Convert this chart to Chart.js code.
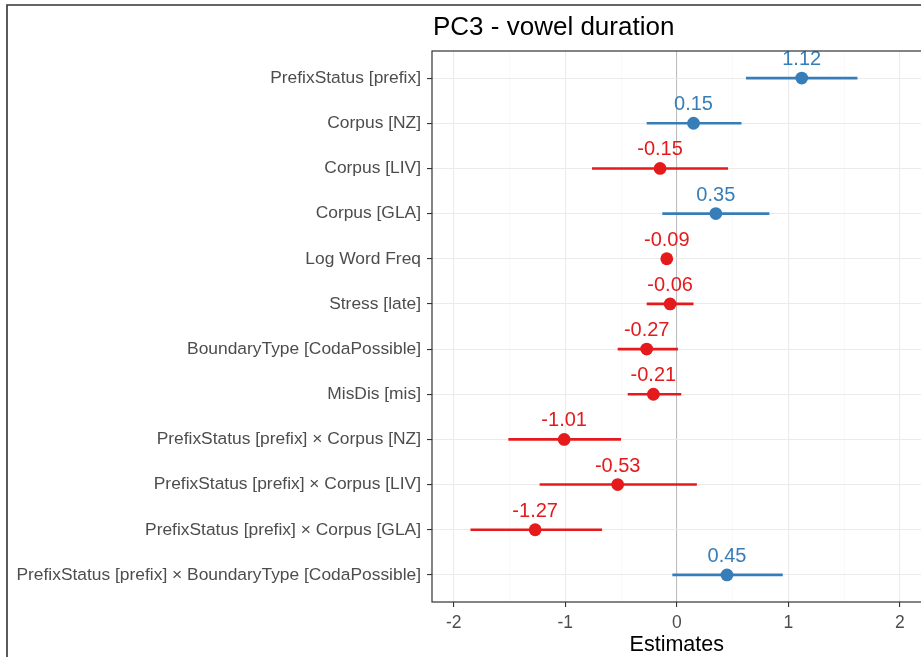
<!DOCTYPE html>
<html>
<head>
<meta charset="utf-8">
<title>PC3 - vowel duration</title>
<script src="https://cdn.jsdelivr.net/npm/chart.js@4.4.1/dist/chart.umd.min.js"></script>
<style>
  html, body { margin: 0; padding: 0; background: #fff; overflow: hidden; }
  /* the panel runs slightly past the right edge of the window */
  #wrap { position: relative; width: 928px; height: 657px; }
</style>
</head>
<body>
<div id="wrap"><canvas id="forest"></canvas></div>
<script>
// model terms, top to bottom
const terms = [
    'PrefixStatus [prefix]',
    'Corpus [NZ]',
    'Corpus [LIV]',
    'Corpus [GLA]',
    'Log Word Freq',
    'Stress [late]',
    'BoundaryType [CodaPossible]',
    'MisDis [mis]',
    'PrefixStatus [prefix] \u00d7 Corpus [NZ]',
    'PrefixStatus [prefix] \u00d7 Corpus [LIV]',
    'PrefixStatus [prefix] \u00d7 Corpus [GLA]',
    'PrefixStatus [prefix] \u00d7 BoundaryType [CodaPossible]'
];
const estimates = [1.12, 0.15, -0.15, 0.35, -0.09, -0.06, -0.27, -0.21, -1.01, -0.53, -1.27, 0.45];
const ciLow     = [0.62, -0.27, -0.76, -0.13, -0.12, -0.27, -0.53, -0.44, -1.51, -1.23, -1.85, -0.04];
const ciHigh    = [1.62, 0.58, 0.46, 0.83, -0.06, 0.15, 0.01, 0.04, -0.50, 0.18, -0.67, 0.95];
const xTicks    = [-2, -1, 0, 1, 2];

const BLUE = '#377EB8';
const RED = '#E41A1C';
const colorFor = v => (v >= 0 ? BLUE : RED);
const FONT = "'Liberation Sans', Arial, sans-serif";

// one short line per term for the confidence interval
const ciSets = terms.map((t, i) => ({
    type: 'line',
    data: [{ x: ciLow[i], y: i }, { x: ciHigh[i], y: i }],
    borderColor: colorFor(estimates[i]),
    borderWidth: 2.6,
    pointRadius: 0,
    order: 2
}));

const pointSet = {
    type: 'scatter',
    data: estimates.map((v, i) => ({ x: v, y: i })),
    backgroundColor: estimates.map(colorFor),
    borderWidth: 0,
    pointRadius: 6.4,
    order: 0
};

// frame, title, panel border and value labels
const decorations = {
    id: 'decorations',
    beforeDraw(chart) {
        const c = chart.ctx;
        c.save();
        c.strokeStyle = '#333333';
        c.lineWidth = 1.6;
        c.beginPath();
        c.moveTo(7, chart.height + 2);
        c.lineTo(7, 5);
        c.lineTo(chart.width + 2, 5);
        c.stroke();
        c.fillStyle = '#000';
        c.font = '26px ' + FONT;
        c.textAlign = 'left';
        c.textBaseline = 'alphabetic';
        c.fillText('PC3 - vowel duration', chart.chartArea.left + 1, 35);
        c.restore();
    },
    afterDatasetsDraw(chart) {
        const c = chart.ctx;
        const area = chart.chartArea;
        const meta = chart.getDatasetMeta(0);
        c.save();
        c.beginPath();
        c.rect(area.left, area.top, area.right - area.left, area.bottom - area.top);
        c.clip();
        c.font = '20px ' + FONT;
        c.textAlign = 'center';
        c.textBaseline = 'alphabetic';
        meta.data.forEach((pt, i) => {
            c.fillStyle = colorFor(estimates[i]);
            c.fillText(estimates[i].toFixed(2), pt.x, pt.y - 13);
        });
        c.restore();
        c.save();
        c.strokeStyle = '#333333';
        c.lineWidth = 1.2;
        c.strokeRect(area.left, area.top, area.right - area.left, area.bottom - area.top);
        c.restore();
    }
};

new Chart(document.getElementById('forest'), {
    data: { datasets: [pointSet, ...ciSets] },
    options: {
        responsive: true,
        maintainAspectRatio: false,
        animation: false,
        layout: { padding: { top: 51, left: 0, right: 0, bottom: 0 } },
        plugins: {
            legend: { display: false },
            tooltip: { enabled: false },
            title: { display: false }
        },
        scales: {
            x: {
                type: 'linear',
                min: -2.195,
                max: 2.195,
                afterFit: s => {
                    s.height = 55;
                    s.paddingLeft = 0;
                    s.paddingRight = 0;
                },
                border: { display: false },
                grid: {
                    color: ctx => ctx.tick.value === 0 ? '#BDBDBD'
                        : (xTicks.includes(ctx.tick.value) ? '#EBEBEB' : '#F5F5F5'),
                    lineWidth: ctx => xTicks.includes(ctx.tick.value) ? 1.1 : 0.6,
                    tickColor: ctx => xTicks.includes(ctx.tick.value) ? '#333333' : 'rgba(0,0,0,0)',
                    tickLength: 5,
                    tickWidth: 1.1
                },
                ticks: {
                    stepSize: 0.5,
                    includeBounds: false,
                    maxTicksLimit: 20,
                    autoSkip: false,
                    maxRotation: 0,
                    padding: 6,
                    color: '#4D4D4D',
                    font: { family: FONT, size: 17.5 },
                    callback: v => xTicks.includes(v) ? String(v) : ''
                },
                title: {
                    display: true,
                    text: 'Estimates',
                    color: '#000',
                    font: { family: FONT, size: 21.5 },
                    padding: { top: 0, bottom: -1 }
                }
            },
            y: {
                type: 'linear',
                reverse: true,
                min: -0.6,
                max: 11.6,
                afterFit: s => { s.width = 432; },
                border: { display: false },
                grid: {
                    color: '#EBEBEB',
                    lineWidth: 1.1,
                    tickColor: '#333333',
                    tickLength: 5,
                    tickWidth: 1.1
                },
                ticks: {
                    stepSize: 1,
                    includeBounds: false,
                    maxTicksLimit: 20,
                    autoSkip: false,
                    padding: 6,
                    color: '#4D4D4D',
                    font: { family: FONT, size: 17.4 },
                    callback: v => terms[v] !== undefined ? terms[v] : ''
                }
            }
        }
    },
    plugins: [decorations]
});
</script>
</body>
</html>
